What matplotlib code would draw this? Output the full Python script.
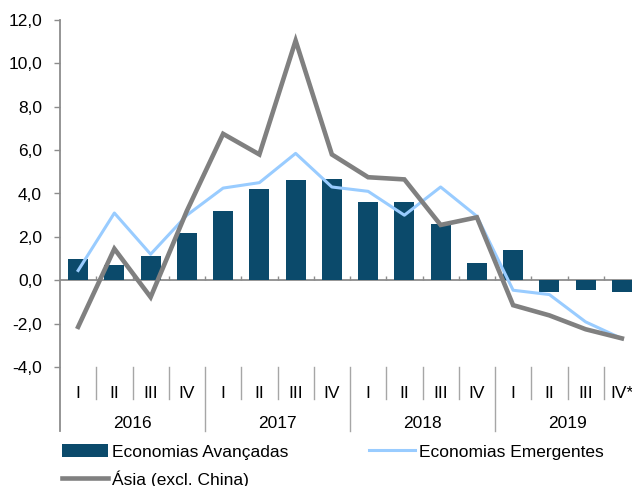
import matplotlib.pyplot as plt
from matplotlib.patches import Patch
from matplotlib.lines import Line2D

plt.rcParams['font.family'] = ['Liberation Sans', 'DejaVu Sans']

quarters = ['I', 'II', 'III', 'IV'] * 3 + ['I', 'II', 'III', 'IV*']
years = ['2016', '2017', '2018', '2019']
avancadas = [1.0, 0.72, 1.1, 2.2, 3.2, 4.2, 4.6, 4.65, 3.6, 3.6, 2.6, 0.8, 1.4, -0.55, -0.46, -0.54]
emergentes = [0.45, 3.1, 1.2, 3.0, 4.25, 4.5, 5.85, 4.3, 4.1, 3.0, 4.3, 2.95, -0.46, -0.66, -1.92, -2.69]
asia = [-2.15, 1.45, -0.78, 3.2, 6.75, 5.8, 11.05, 5.8, 4.75, 4.65, 2.55, 2.9, -1.15, -1.62, -2.26, -2.68]

bar_color = '#0B4A6B'
emer_color = '#99CCFF'
asia_color = '#808080'
axis_color = '#8C8C8C'
fs = 12.5

fig = plt.figure(figsize=(6.32, 4.86), dpi=100)
ax = fig.add_axes([60 / 632, 1 - 367 / 486, 580 / 632, 347 / 486])

x = list(range(len(quarters)))
ax.bar(x, avancadas, width=0.55, color=bar_color, zorder=2)
ax.axhline(0, color=axis_color, lw=1.3, zorder=1)
ax.vlines([i + 0.5 for i in x[:-1]], 0, 0.18, color=axis_color, lw=1.0, zorder=1)
ax.plot(x, emergentes, color=emer_color, lw=2.2, zorder=3)
ax.plot(x, asia, color=asia_color, lw=3.3, zorder=4, solid_joinstyle='miter')

ax.set_xlim(-0.5, 15.5)
ax.set_ylim(-4, 12)
ax.set_yticks(range(-4, 13, 2))
ax.set_yticklabels([f'{v},0' for v in range(-4, 13, 2)], fontsize=fs)
ax.tick_params(axis='y', length=4, width=1.0, color=axis_color, pad=9)
ax.set_xticks([])
for s in ['top', 'right', 'bottom', 'left']:
    ax.spines[s].set_visible(False)

# left axis line running down through the category labels
ax.plot([-0.5, -0.5], [12, -6.97], color=axis_color, lw=1.3, clip_on=False)
# quarter and year separators
for i in range(1, 16):
    bottom = -6.97 if i % 4 == 0 else -5.49
    ax.plot([i - 0.5, i - 0.5], [-4.0, bottom], color='#A6A6A6', lw=1.0, clip_on=False)
for i, q in enumerate(quarters):
    ax.text(i, -5.2, q, ha='center', va='center', fontsize=fs, clip_on=False)
for j, yr in enumerate(years):
    ax.text(4 * j + 1.5, -6.62, yr, ha='center', va='center', fontsize=fs, clip_on=False)

handles = [Patch(facecolor=bar_color, label='Economias Avançadas'),
           Line2D([], [], color=asia_color, lw=3.3, label='Ásia (excl. China)'),
           Line2D([], [], color=emer_color, lw=2.2, label='Economias Emergentes')]
fig.legend(handles=handles, loc='upper left', bbox_to_anchor=(62 / 632, 1 - 444 / 486),
           ncol=2, frameon=False, fontsize=fs, borderpad=0, borderaxespad=0,
           handlelength=2.65, handleheight=0.8, handletextpad=0.25,
           columnspacing=4.6, labelspacing=0.6)

fig.savefig('out.png', dpi=100)
